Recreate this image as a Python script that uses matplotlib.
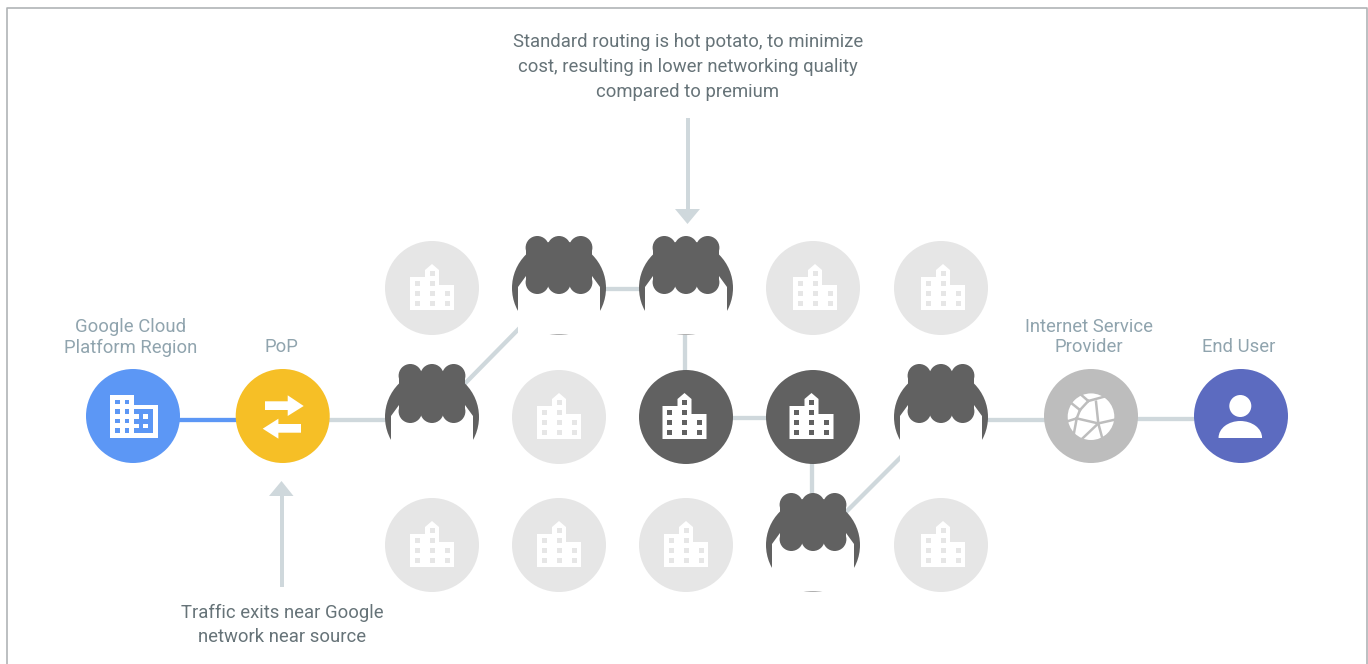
import matplotlib
matplotlib.use("Agg")
import matplotlib.pyplot as plt
from matplotlib.patches import Circle, Polygon, Rectangle, Ellipse

# ---- content ----
col_x = [432, 559, 686, 813, 941]
row_y = [288, 417, 545]
faded_nodes = [(0, 0), (3, 0), (4, 0), (1, 1), (0, 2), (1, 2), (2, 2), (4, 2)]
dark_nodes = [(2, 1), (3, 1)]
masked_nodes = [(1, 0), (2, 0), (0, 1), (4, 1), (3, 2)]
annotations = [
    ("Standard routing is hot potato, to minimize", 688, 42),
    ("cost, resulting in lower networking quality", 688, 67),
    ("compared to premium", 688, 92),
    ("Traffic exits near Google", 282, 612.5),
    ("network near source", 282, 637.5),
]
node_labels = [
    ("Google Cloud", 131, 326.5), ("Platform Region", 131, 347.5), ("PoP", 281, 347.5),
    ("Internet Service", 1089, 326.5), ("Provider", 1089, 347.5), ("End User", 1239, 347.5),
]

LINE = "#cfd8dc"; DARK = "#616161"; FADED = "#e6e6e6"; BLUE = "#5c97f5"
YELLOW = "#f6bf26"; ISP = "#bdbdbd"; USER = "#5c6bc0"
R = 47

fig = plt.figure(figsize=(13.68, 6.64), dpi=100)
ax = fig.add_axes([0, 0, 1, 1])
ax.set_xlim(0, 1368); ax.set_ylim(664, 0); ax.axis("off")

# frame
ax.plot([7, 7, 1367, 1367], [664, 7.5, 7.5, 664], color="#b0b4b6", lw=1.2, zorder=1)

# links
def link(x0, y0, x1, y1, c=LINE):
    ax.plot([x0, x1], [y0, y1], color=c, lw=3.1, solid_capstyle="butt", zorder=2)
link(133, 420, 283, 420, BLUE)
link(283, 420, 432, 420)
link(432, 417, 559, 288)
link(559, 289, 686, 289)
link(685, 288, 685, 417)
link(686, 418, 813, 418)
link(812, 417, 812, 545)
link(813, 545, 941, 417)
link(941, 420, 1091, 420)
link(1091, 419, 1240, 419)

# building icon
def building(cx, cy, bg):
    pts = [(-22, -11), (-7, -11), (-7, -18), (0, -24), (7, -18), (7, -3), (22, -3), (22, 22), (-22, 22)]
    ax.add_patch(Polygon([(cx + a, cy + b) for a, b in pts], fc="white", ec="none", zorder=6))
    for wx, wy in [(0, -15), (-15, -5), (0, -5), (-15, 5), (0, 5), (15, 5), (-15, 15), (0, 15), (15, 15)]:
        ax.add_patch(Rectangle((cx + wx - 2.5, cy + wy - 2.5), 5, 5, fc=bg, ec="none", zorder=7))

def disc(cx, cy, c):
    ax.add_patch(Circle((cx, cy), R, fc=c, ec="none", zorder=4))

for c, r in faded_nodes:
    disc(col_x[c], row_y[r], FADED)
    building(col_x[c] + (2 if c >= 3 else 0), row_y[r], FADED)
for c, r in dark_nodes:
    disc(col_x[c], row_y[r], DARK)
    building(col_x[c] - 1.5, row_y[r], DARK)

# masked nodes: dark disc, white panel, dark scalloped blob
def masked(cx, cy, bottom, top):
    disc(cx, cy, DARK)
    w0, w1 = cx - 41, cx + 41
    ax.add_patch(Polygon([(cx - 33, cy - 12), (cx + 33, cy - 12), (w1, cy - 1), (w1, cy + bottom),
                          (w0, cy + bottom), (w0, cy - 1)], fc="white", ec="none", zorder=5))
    r = 11.7
    ax.add_patch(Rectangle((cx - 33, cy + top + r), 66, 6 - top - 2 * r, fc=DARK, ec="none", zorder=6))
    for dx in (-21.7, 0, 21.7):
        ax.add_patch(Circle((cx + dx, cy + top + r), r, fc=DARK, ec="none", zorder=6))
        ax.add_patch(Circle((cx + dx, cy + 6 - r), r, fc=DARK, ec="none", zorder=6))

for (c, r), b, t in zip(masked_nodes, [46.5, 46.5, 50, 50, 46.5], [-52, -52, -53, -53, -52]):
    masked(col_x[c], row_y[r], b, t)

# region icon
cx, cy = 133, 416
disc(cx, cy, BLUE)
ax.add_patch(Polygon([(cx - 23, cy - 21), (cx + 1, cy - 21), (cx + 1, cy - 11), (cx + 25, cy - 11),
                      (cx + 25, cy + 22), (cx - 23, cy + 22)], fc="white", ec="none", zorder=6))
for wy in (-14, -4.7, 5, 14.7):
    for wx in (-15.5, -6):
        ax.add_patch(Rectangle((cx + wx - 2.4, cy + wy - 2.4), 4.8, 4.8, fc=BLUE, ec="none", zorder=7))
ax.add_patch(Rectangle((cx + 1.3, cy - 6.7), 19, 24, fc=BLUE, ec="none", zorder=7))
for wx, wy in [(3.3, 0.7), (3.3, 10), (12.7, 0.7), (12.7, 10)]:
    ax.add_patch(Rectangle((cx + wx - 2.4, cy + wy - 2.4), 4.8, 4.8, fc="white", ec="none", zorder=8))

# PoP icon
cx, cy = 282.7, 416
disc(cx, cy, YELLOW)
ax.add_patch(Polygon([(cx - 17.7, cy - 14.7), (cx + 5, cy - 14.7), (cx + 5, cy - 20.7), (cx + 21, cy - 10),
                      (cx + 5, cy + 0), (cx + 5, cy - 6), (cx - 17.7, cy - 6)], fc="white", ec="none", zorder=6))
ax.add_patch(Polygon([(cx + 18.3, cy + 8), (cx - 4.3, cy + 8), (cx - 4.3, cy + 2.7), (cx - 20, cy + 12.7),
                      (cx - 4.3, cy + 22.7), (cx - 4.3, cy + 16.7), (cx + 18.3, cy + 16.7)],
                     fc="white", ec="none", zorder=6))

# ISP icon
cx, cy = 1091, 416.7
disc(cx, 416, ISP)
ax.add_patch(Circle((cx, cy), 23.3, fc="white", ec="none", zorder=6))
A, B, C, D = (-11, -6.7), (-2.7, -15.7), (-14.3, 1.7), (7.3, 6.7)
for a, b in [((-19.3, -13.3), A), (A, B), ((-10.3, -22.3), B), (B, (15.7, -20.7)), (A, C), (C, (-22.7, 4.3)),
             (C, (-17.7, 20)), (C, D), (D, (25, 2.7)), (D, (-12.7, 25.7)), (D, (12.3, 25.3)), ((5, -15), D)]:
    ax.plot([cx + a[0], cx + b[0]], [cy + a[1], cy + b[1]], color=ISP, lw=1.8, zorder=7)
# grey ring keeps spokes inside the globe outline
ax.add_patch(Circle((cx, cy), 26, fc="none", ec=ISP, lw=2.1, zorder=8))

# user icon
cx, cy = 1241, 416
disc(cx, cy, USER)
ax.add_patch(Circle((cx - 0.7, cy - 10), 11, fc="white", ec="none", zorder=6))
body = Ellipse((cx - 0.7, cy + 21.7), 43.5, 33.4, fc="white", ec="none", zorder=6)
ax.add_patch(body)
body.set_clip_path(Rectangle((cx - 24, cy + 0), 48, 21.7, transform=ax.transData))

# arrows
ax.add_patch(Rectangle((686, 118), 4, 92, fc=LINE, ec="none", zorder=2))
ax.add_patch(Polygon([(675, 209), (700, 209), (687.5, 224)], fc=LINE, ec="none", zorder=2))
ax.add_patch(Rectangle((279.5, 496), 4, 91, fc=LINE, ec="none", zorder=2))
ax.add_patch(Polygon([(269, 496), (293.5, 496), (281.5, 481)], fc=LINE, ec="none", zorder=2))

for s, x, y in annotations:
    ax.text(x, y, s, ha="center", va="center", family="Roboto", fontsize=13.3, color="#667378", zorder=9)
for s, x, y in node_labels:
    ax.text(x, y, s, ha="center", va="center", family="Roboto", fontsize=13.3, color="#90a4ae", zorder=9)

fig.savefig("out.png", dpi=100)
